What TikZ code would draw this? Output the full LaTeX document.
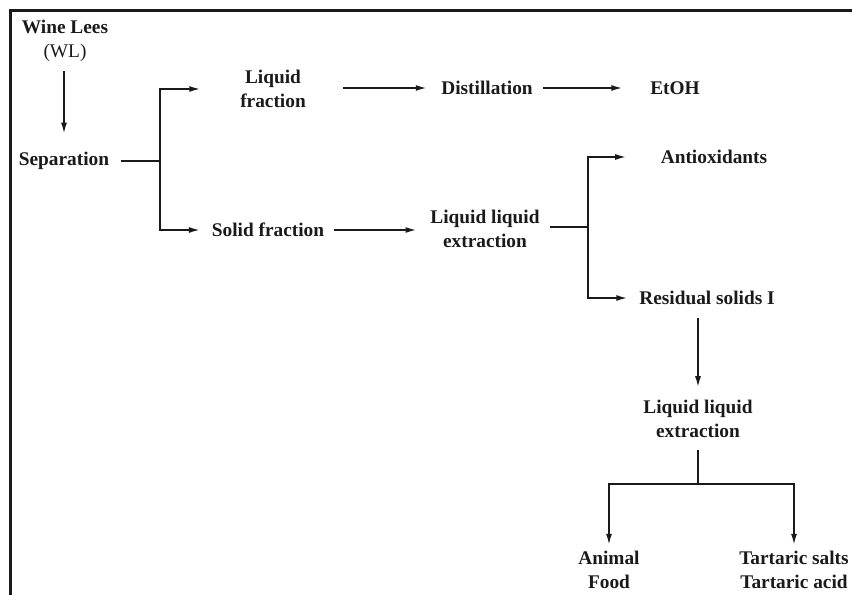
\documentclass[tikz,border=0pt]{standalone}
\usepackage{fontspec}
\setmainfont{Liberation Serif}
\usetikzlibrary{arrows.meta,calc,positioning}
\definecolor{ink}{HTML}{1A1A1A}

\begin{document}
\begin{tikzpicture}[
  x=0.75pt, y=-0.75pt,
  lbl/.style={inner sep=0pt, align=center, text=ink,
    font=\fontsize{14.5}{17.6}\selectfont\bfseries},
  arr/.style={-{Latex[length=8pt,width=4.5pt]}, line width=1.1pt, draw=ink},
  bar/.style={line width=1.1pt, draw=ink},
  frame/.style={line width=2.6pt, draw=ink}
]
\useasboundingbox (0,0) rectangle (852,595);
\draw[frame] (10.5,595) -- (10.5,10.5) -- (852,10.5);

% nodes
\node[lbl] (wl) at (65,41) {Wine Lees\\{\mdseries (WL)}};
\node[lbl] (sep) at (64,161) {Separation};
\node[lbl] (liqfrac) at (273,89) {Liquid\\fraction};
\node[lbl] (dist) at (487,88) {Distillation};
\node[lbl] (etoh) at (675,88) {EtOH};
\node[lbl] (solfrac) at (268,230) {Solid fraction};
\node[lbl] (lle1) at (485,229) {Liquid liquid\\extraction};
\node[lbl] (antiox) at (714,157) {Antioxidants};
\node[lbl] (resid) at (707,298) {Residual solids I};
\node[lbl] (lle2) at (698,419) {Liquid liquid\\extraction};
\node[lbl] (food) at (609,570) {Animal\\Food};
\node[lbl] (tart) at (794,570) {Tartaric salts\\Tartaric acid};

% split points
\coordinate (s1) at (160,161);
\coordinate (s2) at (588,227);
\coordinate (s3) at (698,484);

% connectors
\draw[arr, shorten <=7pt, shorten >=14pt] (wl.south -| sep.north) -- (sep.north);
\draw[bar, shorten <=9pt] (sep.east) -- (s1);
\draw[arr, shorten >=30pt] (s1) |- (liqfrac.west);
\draw[arr, shorten >=9pt] (s1) |- (solfrac.west);
\draw[arr, shorten <=28pt, shorten >=11pt] (liqfrac.east |- dist.west) -- (dist.west);
\draw[arr, shorten <=7.5pt, shorten >=21pt] (dist) -- (etoh);
\draw[arr, shorten <=7.5pt, shorten >=10.5pt] (solfrac.east) -- (lle1.west |- solfrac.east);
\draw[bar, shorten <=8pt] (lle1.east |- s2) -- (s2);
\draw[arr, shorten >=26pt] (s2) |- (antiox.west);
\draw[arr, shorten >=9pt] (s2) |- (resid.west);
\draw[arr, shorten <=10pt, shorten >=10pt] (resid.south -| lle2.north) -- (lle2.north);
\draw[bar, shorten <=9pt] (lle2.south) -- (s3);
\draw[arr, shorten >=5pt] (s3) -| (food.north);
\draw[arr, shorten >=5pt] (s3) -| (tart.north);
\end{tikzpicture}
\end{document}
